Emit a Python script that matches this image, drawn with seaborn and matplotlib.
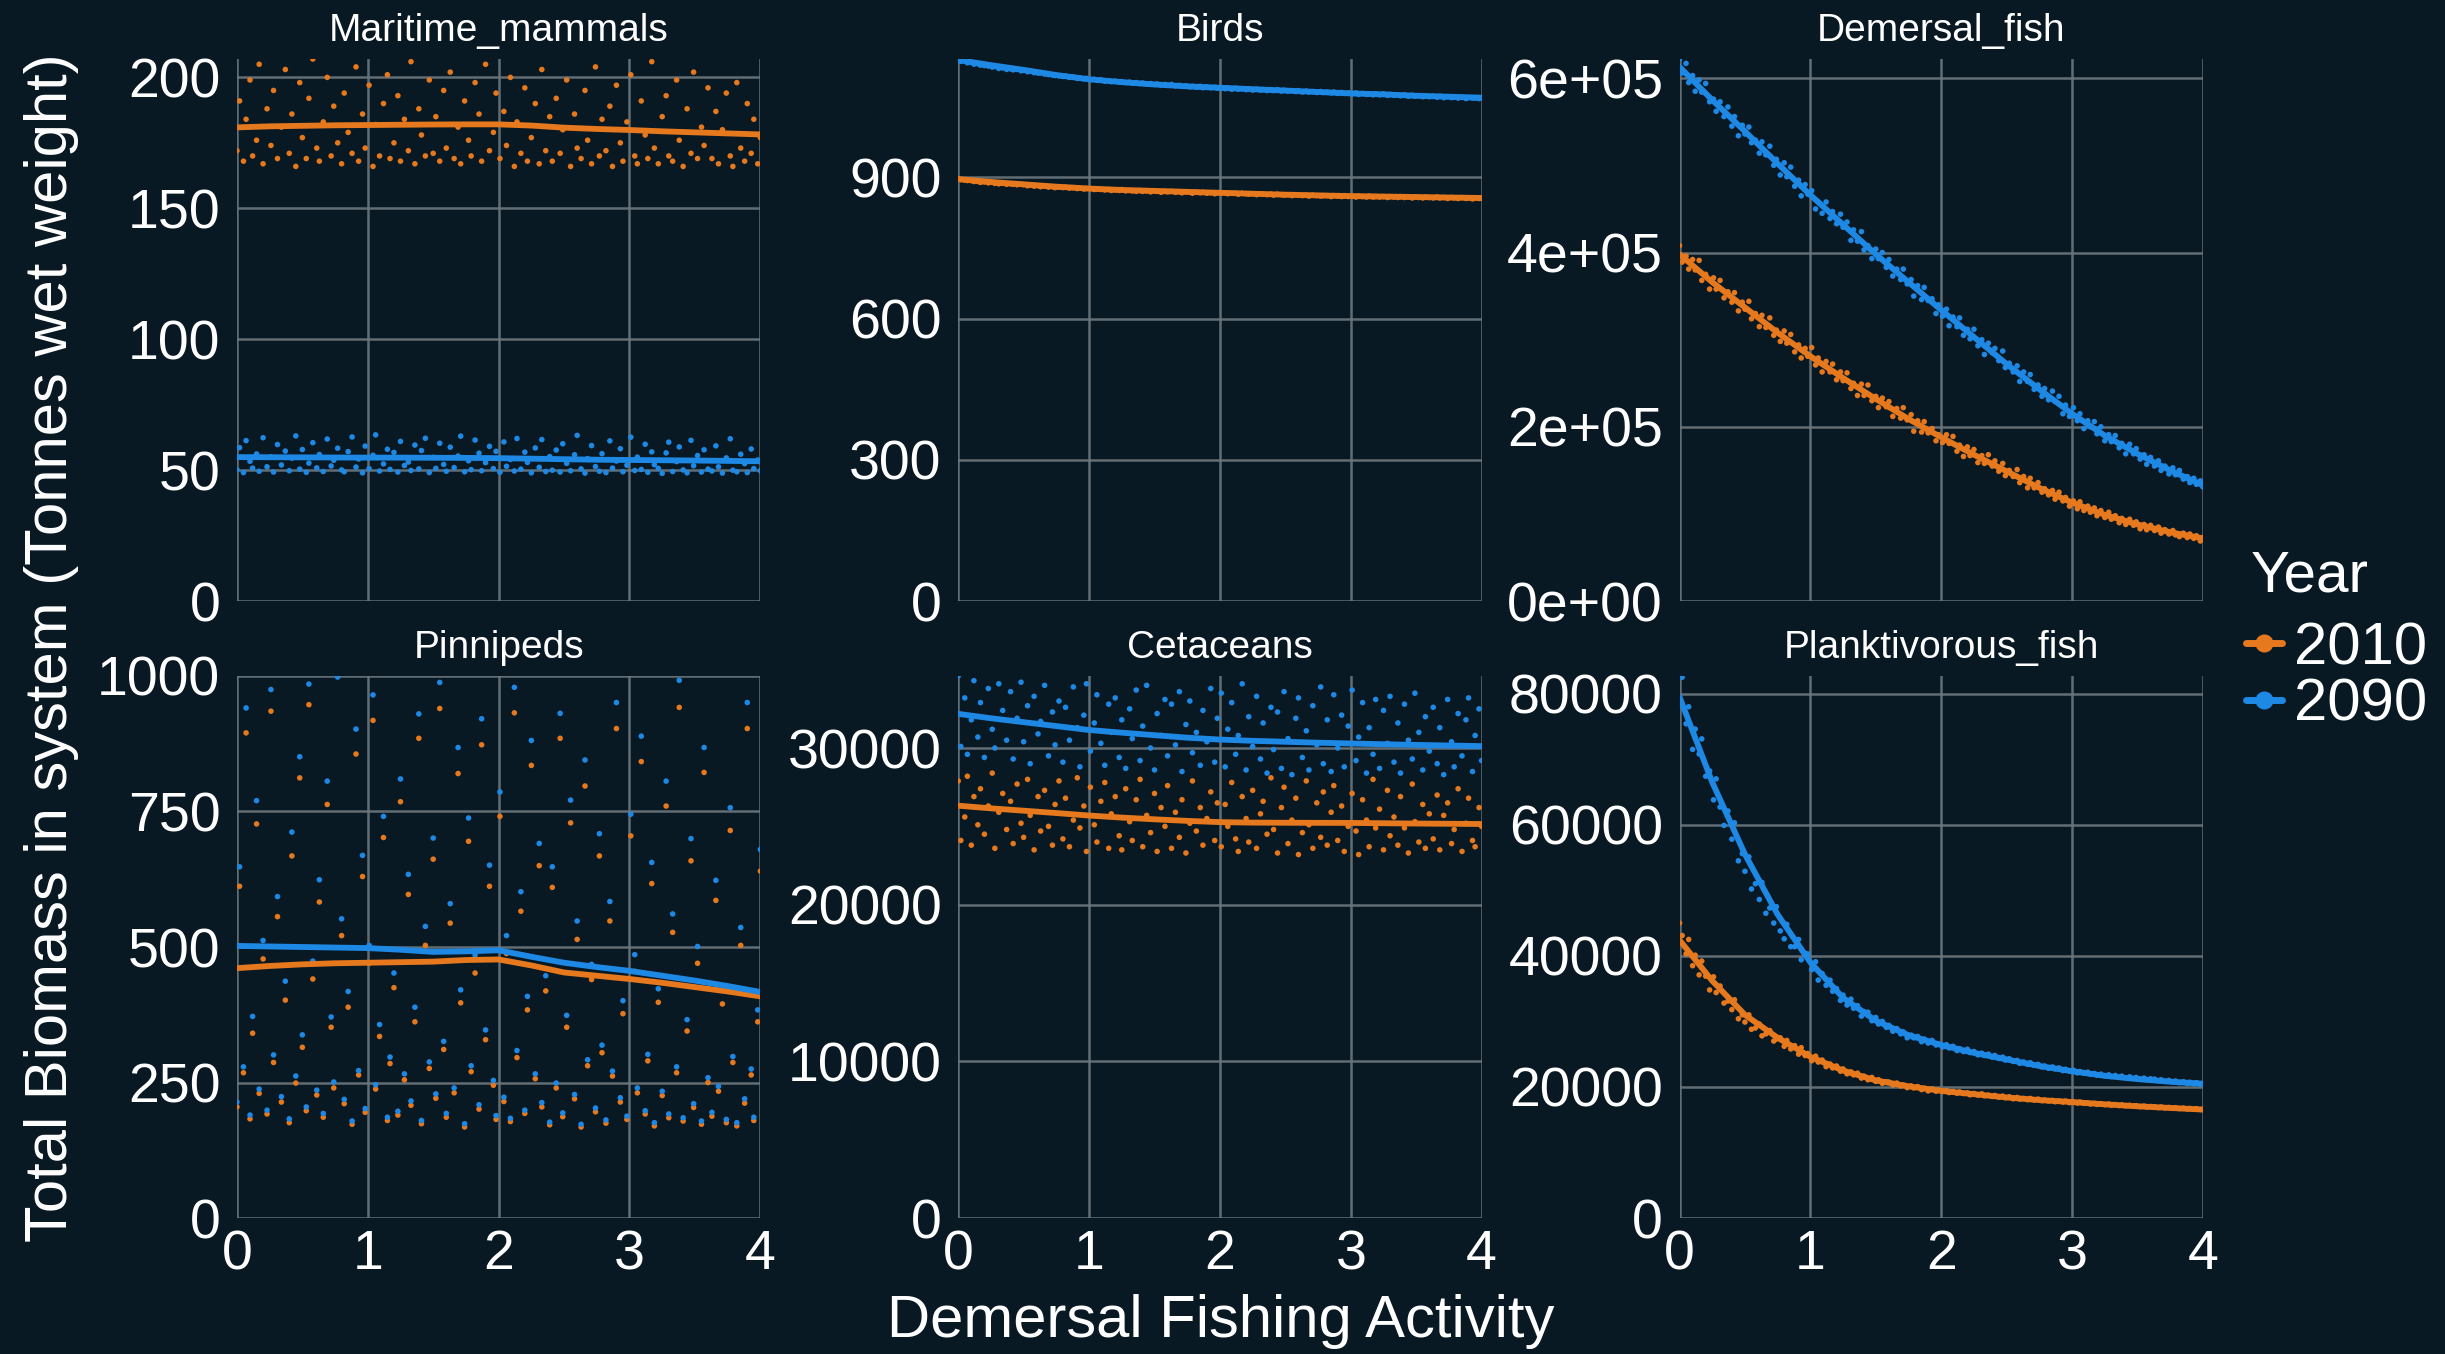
import matplotlib
matplotlib.use("Agg")
import matplotlib.pyplot as plt
from matplotlib.lines import Line2D
from matplotlib.ticker import MultipleLocator, FuncFormatter
import pandas as pd
import seaborn as sns

# Demersal fishing activity of each model run (shared by every guild and year)
activity = [
    0.00, 0.02, 0.05, 0.07, 0.10, 0.12, 0.15, 0.17, 0.20, 0.23, 0.26, 0.28, 0.31, 0.34, 0.37,
    0.40, 0.42, 0.45, 0.48, 0.50, 0.53, 0.55, 0.58, 0.61, 0.63, 0.66, 0.69, 0.72, 0.74, 0.77,
    0.80, 0.82, 0.85, 0.88, 0.91, 0.93, 0.96, 0.98, 1.01, 1.04, 1.06, 1.09, 1.12, 1.15, 1.17,
    1.20, 1.23, 1.25, 1.28, 1.31, 1.33, 1.36, 1.39, 1.41, 1.44, 1.47, 1.50, 1.52, 1.55, 1.58,
    1.60, 1.63, 1.66, 1.69, 1.71, 1.74, 1.77, 1.79, 1.82, 1.85, 1.87, 1.90, 1.93, 1.96, 1.98,
    2.01, 2.04, 2.06, 2.09, 2.12, 2.14, 2.17, 2.20, 2.22, 2.25, 2.28, 2.31, 2.33, 2.36, 2.39,
    2.41, 2.44, 2.47, 2.49, 2.52, 2.55, 2.58, 2.60, 2.63, 2.66, 2.68, 2.71, 2.74, 2.77, 2.79,
    2.82, 2.85, 2.87, 2.90, 2.93, 2.95, 2.98, 3.01, 3.04, 3.06, 3.09, 3.12, 3.14, 3.17, 3.19,
    3.22, 3.25, 3.28, 3.30, 3.33, 3.36, 3.38, 3.41, 3.44, 3.47, 3.49, 3.52, 3.55, 3.57, 3.60,
    3.63, 3.66, 3.68, 3.71, 3.74, 3.77, 3.79, 3.82, 3.85, 3.88, 3.90, 3.93, 3.95, 3.98, 4.00,
]

groups = ["Maritime_mammals", "Birds", "Demersal_fish",
          "Pinnipeds", "Cetaceans", "Planktivorous_fish"]
years = ["2010", "2090"]

maritime_2010 = [
    172, 191, 168, 184, 199, 170, 176, 205, 167, 188, 174, 195, 169, 181, 203,
    171, 186, 166, 198, 177, 169, 192, 207, 173, 168, 183, 200, 170, 189, 175,
    167, 194, 179, 171, 204, 168, 186, 173, 197, 166, 182, 170, 190, 201, 169,
    175, 193, 168, 184, 172, 206, 167, 188, 178, 170, 199, 171, 185, 168, 195,
    173, 202, 169, 181, 167, 191, 176, 170, 198, 186, 168, 205, 172, 179, 194,
    169, 187, 174, 200, 166, 183, 171, 196, 168, 177, 190, 167, 203, 172, 185,
    168, 192, 171, 180, 199, 166, 186, 173, 169, 195, 176, 167, 204, 170, 184,
    172, 189, 166, 197, 175, 168, 183, 201, 170, 167, 191, 178, 169, 206, 173,
    167, 185, 193, 170, 168, 199, 176, 166, 188, 171, 202, 169, 181, 174, 196,
    169, 187, 167, 180, 194, 170, 166, 198, 173, 168, 190, 171, 184, 167, 177,
]
maritime_2090 = [
    50.2, 58.6, 49.1, 61.3, 53.4, 50.8, 56.2, 49.6, 62.4, 51.3, 55.1, 49.3, 59.8, 52.0, 57.3,
    49.8, 54.6, 63.1, 50.4, 57.9, 49.2, 52.7, 60.5, 50.9, 56.0, 49.5, 61.9, 51.6, 53.8, 58.4,
    50.1, 49.4, 57.1, 62.7, 51.2, 54.3, 49.0, 59.2, 50.6, 55.7, 63.5, 49.7, 52.4, 58.0, 50.3,
    56.8, 49.3, 61.0, 51.8, 53.1, 49.9, 59.6, 50.5, 57.5, 62.2, 49.1, 54.9, 50.7, 60.3, 52.2,
    49.6, 58.8, 51.0, 55.4, 63.0, 49.4, 53.6, 50.2, 61.5, 56.5, 49.8, 52.9, 59.1, 50.6, 57.2,
    49.2, 60.8, 51.5, 54.1, 49.7, 62.1, 50.4, 56.9, 53.0, 49.0, 58.5, 51.1, 61.7, 49.5, 55.2,
    50.0, 57.7, 49.3, 60.1, 52.6, 49.8, 55.9, 63.3, 50.5, 48.9, 54.4, 59.4, 51.4, 49.6, 56.3,
    49.1, 61.2, 50.8, 53.5, 58.2, 49.4, 51.9, 62.6, 49.9, 55.0, 50.3, 59.9, 49.2, 57.0, 52.1,
    50.7, 48.8, 56.6, 60.7, 49.5, 53.3, 58.9, 50.1, 49.0, 61.4, 51.7, 55.6, 49.3, 57.8, 50.4,
    49.7, 59.3, 51.3, 48.9, 54.7, 62.0, 50.0, 49.4, 56.1, 52.5, 49.1, 58.1, 50.6, 53.9, 49.8,
]
birds_2010 = [
    897, 895, 894, 893, 893, 891, 891, 889, 890, 888, 889, 887, 886, 887, 885,
    886, 885, 884, 885, 884, 882, 883, 881, 882, 880, 881, 879, 880, 878, 879,
    878, 879, 877, 878, 876, 877, 875, 876, 876, 874, 875, 874, 873, 874, 872,
    873, 872, 874, 871, 872, 871, 870, 872, 870, 871, 869, 871, 870, 868, 870,
    869, 870, 868, 869, 867, 869, 868, 866, 868, 867, 868, 866, 867, 865, 867,
    866, 867, 865, 866, 866, 864, 866, 865, 864, 865, 863, 865, 864, 863, 864,
    862, 864, 863, 862, 863, 861, 863, 862, 861, 862, 860, 862, 861, 860, 861,
    861, 859, 861, 860, 859, 861, 859, 860, 858, 860, 859, 858, 860, 858, 859,
    858, 859, 857, 859, 858, 857, 859, 857, 858, 856, 858, 857, 856, 858, 857,
    856, 858, 856, 857, 855, 857, 856, 855, 857, 855, 856, 854, 856, 855, 855,
]
birds_2090 = [
    1151, 1146, 1147, 1143, 1144, 1140, 1141, 1138, 1137, 1136, 1134, 1135, 1131, 1132, 1129,
    1130, 1128, 1129, 1126, 1127, 1124, 1125, 1122, 1121, 1122, 1119, 1118, 1117, 1116, 1115,
    1114, 1115, 1112, 1113, 1110, 1111, 1109, 1110, 1107, 1108, 1106, 1107, 1104, 1105, 1103,
    1104, 1102, 1103, 1101, 1102, 1100, 1101, 1099, 1100, 1098, 1099, 1097, 1098, 1096, 1097,
    1095, 1097, 1094, 1095, 1093, 1094, 1092, 1093, 1091, 1093, 1090, 1092, 1090, 1091, 1089,
    1090, 1088, 1090, 1087, 1089, 1087, 1088, 1086, 1088, 1085, 1087, 1085, 1086, 1084, 1086,
    1084, 1086, 1083, 1085, 1083, 1084, 1082, 1084, 1081, 1083, 1081, 1082, 1080, 1082, 1080,
    1081, 1079, 1081, 1078, 1080, 1078, 1079, 1077, 1079, 1076, 1078, 1076, 1077, 1075, 1077,
    1075, 1077, 1074, 1076, 1074, 1075, 1073, 1075, 1072, 1074, 1072, 1073, 1071, 1073, 1071,
    1072, 1070, 1072, 1069, 1071, 1069, 1070, 1068, 1070, 1067, 1069, 1068, 1068, 1067, 1068,
]
# Demersal fish biomass in thousands of tonnes
demersal_2010_k = [
    408, 389, 396, 381, 392, 380, 391, 368, 375, 358, 371, 358, 368, 348, 355,
    343, 354, 333, 343, 335, 344, 324, 330, 315, 328, 314, 325, 305, 311, 298,
    310, 296, 306, 286, 294, 279, 290, 281, 291, 271, 279, 263, 275, 263, 272,
    254, 263, 253, 262, 244, 250, 236, 249, 236, 248, 230, 235, 222, 233, 223,
    229, 212, 221, 210, 222, 208, 214, 195, 207, 194, 206, 193, 198, 184, 191,
    182, 191, 181, 189, 172, 179, 166, 177, 167, 174, 159, 167, 158, 168, 155,
    161, 149, 158, 144, 150, 143, 151, 136, 143, 130, 141, 130, 136, 125, 129,
    122, 127, 117, 125, 115, 119, 109, 115, 106, 114, 104, 109, 102, 107, 98,
    104, 96, 102, 94, 98, 90, 95, 88, 94, 87, 91, 83, 88, 82, 87,
    81, 85, 78, 82, 77, 81, 76, 74, 78, 73, 77, 72, 75, 69, 73,
]
demersal_2090_k = [
    622, 606, 617, 595, 603, 585, 598, 584, 594, 573, 576, 562, 573, 556, 567,
    545, 556, 534, 546, 536, 544, 526, 529, 514, 527, 512, 522, 500, 507, 489,
    503, 487, 498, 476, 483, 465, 478, 467, 471, 450, 458, 445, 458, 439, 447,
    433, 444, 429, 435, 414, 426, 413, 424, 403, 408, 393, 404, 393, 400, 383,
    392, 373, 381, 369, 381, 364, 369, 350, 362, 346, 360, 345, 347, 330, 340,
    327, 335, 316, 326, 315, 325, 305, 312, 301, 312, 293, 300, 283, 296, 285,
    290, 276, 287, 268, 273, 263, 270, 252, 263, 252, 260, 243, 248, 235, 244,
    231, 241, 229, 235, 215, 225, 212, 222, 207, 215, 198, 207, 200, 206, 192,
    200, 184, 191, 183, 190, 176, 181, 169, 180, 169, 175, 163, 168, 157, 165,
    155, 161, 150, 155, 146, 153, 145, 150, 140, 143, 136, 141, 134, 138, 131,
]
pinnipeds_2010 = [
    205, 612, 268, 895, 183, 341, 727, 230, 478, 192, 935, 287, 556, 214, 402,
    176, 668, 249, 812, 315, 198, 947, 441, 227, 583, 186, 763, 352, 240, 1000,
    521, 211, 389, 173, 856, 264, 630, 195, 470, 918, 238, 335, 702, 180, 285,
    425, 190, 768, 255, 597, 208, 362, 885, 174, 503, 276, 662, 221, 940, 311,
    186, 544, 231, 820, 397, 168, 695, 270, 452, 201, 873, 329, 612, 245, 182,
    741, 215, 488, 178, 932, 296, 566, 193, 384, 835, 257, 650, 205, 419, 172,
    610, 240, 885, 187, 352, 729, 220, 514, 168, 797, 281, 440, 196, 668, 305,
    175, 548, 262, 903, 214, 377, 182, 705, 455, 231, 842, 192, 290, 617, 170,
    398, 226, 760, 185, 527, 268, 942, 179, 345, 659, 204, 470, 173, 822, 250,
    188, 586, 234, 395, 176, 715, 287, 170, 503, 212, 903, 264, 180, 362, 640,
]
pinnipeds_2090 = [
    214, 648, 279, 941, 190, 372, 770, 238, 512, 199, 975, 301, 593, 224, 437,
    183, 712, 262, 851, 338, 205, 985, 474, 236, 624, 193, 806, 371, 251, 998,
    552, 219, 418, 179, 902, 272, 669, 202, 503, 965, 246, 357, 741, 186, 297,
    452, 197, 810, 266, 634, 216, 389, 930, 180, 538, 288, 701, 229, 988, 326,
    193, 580, 240, 868, 421, 174, 738, 281, 485, 209, 921, 347, 651, 254, 189,
    786, 223, 521, 184, 979, 309, 602, 199, 409, 881, 266, 691, 213, 447, 177,
    648, 249, 931, 194, 374, 771, 228, 548, 173, 845, 292, 468, 203, 709, 319,
    181, 584, 271, 951, 222, 401, 188, 745, 486, 240, 889, 198, 302, 656, 176,
    423, 234, 806, 192, 561, 279, 992, 185, 366, 700, 211, 501, 179, 868, 259,
    195, 623, 243, 421, 182, 757, 298, 176, 536, 220, 951, 275, 186, 384, 680,
]
cetaceans_2010 = [
    27900, 24100, 25600, 28200, 23800, 26900, 25100, 27400, 24500, 26300, 28400, 23600, 25900, 27100, 24800,
    26600, 23900, 27700, 25200, 24300, 28000, 25700, 23500, 26900, 24700, 27300, 25000, 23800, 26400, 27900,
    24200, 26800, 23700, 25400, 28100, 24900, 26300, 23400, 27500, 25100, 24000, 26600, 27800, 23600, 25800,
    26900, 24400, 23500, 27400, 25300, 24100, 26700, 28000, 23700, 25700, 24600, 27100, 23400, 26200, 25000,
    27600, 23600, 25900, 24300, 26700, 23300, 25200, 27900, 24700, 26200, 23800, 25500, 27200, 24100, 26500,
    23700, 26400, 25000, 27800, 24200, 23400, 26900, 25500, 24000, 27300, 23600, 25800, 26600, 24500, 28100,
    24800, 23300, 26200, 27500, 23900, 25400, 26800, 23200, 24600, 27900, 25100, 23600, 26500, 24300, 27200,
    23800, 25900, 27600, 24100, 26300, 23400, 25000, 27100, 24700, 23200, 26700, 25400, 23700, 28000, 24900,
    26100, 23500, 27300, 24400, 25600, 23800, 26900, 24900, 23300, 27700, 25300, 24000, 26400, 23600, 25800,
    24200, 27000, 23500, 25700, 26500, 23900, 24800, 27400, 23400, 25200, 26800, 24100, 23700, 26200, 25000,
]
cetaceans_2090 = [
    34600, 30100, 33200, 29600, 31800, 34300, 30700, 32900, 29400, 33800, 31200, 30000, 34100, 32400, 30500,
    33600, 29300, 31900, 34200, 30400, 32700, 29000, 33300, 30900, 31700, 34000, 29500, 32300, 30200, 33000,
    29100, 32600, 30500, 33900, 31300, 28800, 32100, 34100, 29800, 31600, 33400, 30300, 28900, 32800, 31000,
    33200, 29400, 31800, 28700, 32500, 30600, 33700, 29200, 31400, 34000, 30000, 28600, 32200, 30800, 33100,
    29500, 32800, 30200, 33600, 28500, 31500, 33000, 29700, 31000, 28900, 32400, 30400, 33800, 29100, 31900,
    33500, 28800, 31200, 32900, 29600, 30800, 34100, 28600, 32000, 30100, 33300, 29300, 31600, 28400, 32600,
    29900, 32300, 28700, 33600, 30600, 28300, 31900, 33200, 29400, 31100, 28600, 32700, 30200, 33900, 29000,
    31800, 28500, 33400, 30000, 32100, 28800, 31400, 33700, 29200, 30700, 32900, 28400, 31300, 29600, 33100,
    28700, 32400, 30300, 33300, 29100, 31600, 28400, 32800, 30500, 29300, 33500, 31000, 28600, 32000, 29800,
    32600, 29000, 31300, 28300, 33100, 30400, 28800, 32200, 29500, 31800, 33200, 28500, 30800, 32500, 29200,
]
planktivorous_2010 = [
    45000, 43100, 40300, 42500, 38500, 40100, 37100, 39200, 36900, 34800, 36800, 34400, 35400, 32800, 33100,
    31800, 33300, 30400, 31000, 29900, 31000, 28800, 29000, 29600, 27800, 28100, 28600, 27000, 27300, 27500,
    26200, 27100, 25800, 26300, 25000, 26000, 24800, 25100, 24000, 24700, 23800, 24100, 23100, 23500, 22900,
    23200, 22400, 22750, 22000, 22300, 21850, 22100, 21350, 21650, 21100, 21450, 20850, 21100, 20550, 20800,
    20750, 20300, 20600, 20150, 20300, 19900, 20150, 19850, 20050, 19600, 19800, 19400, 19700, 19350, 19500,
    19300, 19450, 19150, 19300, 19050, 19250, 19000, 19100, 18800, 19000, 18750, 18950, 18650, 18750, 18550,
    18700, 18450, 18600, 18350, 18500, 18200, 18400, 18150, 18250, 18050, 18250, 18000, 18150, 17900, 18000,
    17850, 17950, 17750, 17850, 17700, 17850, 17600, 17700, 17550, 17700, 17500, 17550, 17400, 17500, 17350,
    17450, 17300, 17390, 17230, 17320, 17170, 17260, 17110, 17200, 17060, 17140, 17000, 17080, 16940, 17020,
    16980, 16850, 16940, 16800, 16870, 16740, 16830, 16700, 16780, 16650, 16730, 16600, 16680, 16560, 16580,
]
planktivorous_2090 = [
    82700, 82500, 75400, 78000, 71500, 74600, 70800, 73100, 67400, 68200, 63800, 67000, 62700, 59900, 62100,
    57800, 60300, 54500, 55600, 52900, 55100, 50200, 51000, 48600, 51200, 46500, 47300, 45000, 47500, 43800,
    42600, 44800, 41400, 41400, 42500, 39400, 40400, 40300, 37900, 39100, 36300, 37300, 35500, 36300, 34600,
    35000, 33200, 34000, 32500, 33400, 32000, 32400, 30800, 31500, 31400, 30100, 30600, 29600, 30000, 29100,
    29400, 28500, 28900, 28100, 28400, 27500, 27900, 27500, 27700, 26900, 27300, 26700, 27100, 26400, 26600,
    26100, 26450, 25950, 26200, 25550, 25850, 25400, 25750, 25250, 25400, 24900, 25150, 24800, 25000, 24550,
    24800, 24350, 24550, 24100, 24300, 23900, 24050, 23600, 23800, 23450, 23700, 23300, 23450, 23050, 23200,
    22850, 23050, 22750, 22900, 22500, 22700, 22400, 22550, 22150, 22350, 22100, 22250, 21950, 22050, 21800,
    21950, 21700, 21850, 21600, 21750, 21500, 21650, 21400, 21550, 21300, 21450, 21200, 21350, 21100, 21250,
    21200, 20950, 21100, 20850, 21000, 20750, 20900, 20650, 20800, 20550, 20720, 20480, 20650, 20430, 20550,
]

# Smoothed trend of each series, evaluated at these activity levels
trend_activity = [0.0, 0.25, 0.5, 0.75, 1.0, 1.25, 1.5, 1.75, 2.0,
                  2.25, 2.5, 2.75, 3.0, 3.25, 3.5, 3.75, 4.0]
maritime_2010_trend = [180.9, 181.3, 181.5, 181.7, 181.8, 181.9, 182.0, 182.05, 182.05,
                       181.6, 180.8, 180.3, 179.9, 179.4, 179.0, 178.6, 178.2]
maritime_2090_trend = [55.0, 54.95, 54.9, 54.85, 54.8, 54.8, 54.75, 54.7, 54.6,
                       54.4, 54.2, 54.0, 53.9, 53.8, 53.7, 53.55, 53.4]
birds_2010_trend = [896, 890, 885, 880, 876, 873, 871, 869, 867,
                    865, 863, 861.5, 860, 859, 858, 857, 856]
birds_2090_trend = [1149, 1138, 1128, 1117, 1108, 1102, 1097, 1093, 1090,
                    1087, 1084, 1081, 1078, 1076, 1073, 1071, 1069]
demersal_2010_trend_k = [398, 366, 337, 308, 281, 256, 232, 209, 188,
                         168, 149, 130, 113, 99, 88, 79, 72]
demersal_2090_trend_k = [613, 575, 539, 502, 466, 432, 398, 366, 334,
                         303, 272, 243, 215, 190, 169, 150, 133]
pinnipeds_2010_trend = [461, 465, 468, 470, 471, 472, 473, 476, 477,
                        466, 453, 447, 441, 434, 426, 418, 409]
pinnipeds_2090_trend = [502, 501, 500, 499, 498, 495, 491, 492, 494,
                        482, 471, 463, 456, 447, 438, 428, 417]
cetaceans_2010_trend = [26320, 26150, 26000, 25850, 25690, 25560, 25450, 25350, 25270,
                        25240, 25230, 25225, 25220, 25200, 25180, 25165, 25150]
cetaceans_2090_trend = [32180, 31900, 31650, 31400, 31150, 30980, 30820, 30660, 30540,
                        30460, 30400, 30340, 30290, 30240, 30200, 30160, 30120]
planktivorous_2010_trend = [42400, 36200, 31000, 27500, 24600, 22500, 21000, 20100, 19400,
                            18900, 18400, 18000, 17700, 17350, 17050, 16800, 16550]
planktivorous_2090_trend = [79500, 66500, 55500, 46300, 39000, 33600, 30100, 27900, 26400,
                            25200, 24200, 23200, 22400, 21700, 21200, 20800, 20500]

# ---------------------------------------------------------------- tables
points_by_group = {
    "Maritime_mammals": (maritime_2010, maritime_2090),
    "Birds": (birds_2010, birds_2090),
    "Demersal_fish": ([v * 1000 for v in demersal_2010_k], [v * 1000 for v in demersal_2090_k]),
    "Pinnipeds": (pinnipeds_2010, pinnipeds_2090),
    "Cetaceans": (cetaceans_2010, cetaceans_2090),
    "Planktivorous_fish": (planktivorous_2010, planktivorous_2090),
}
trend_by_group = {
    "Maritime_mammals": (maritime_2010_trend, maritime_2090_trend),
    "Birds": (birds_2010_trend, birds_2090_trend),
    "Demersal_fish": ([v * 1000 for v in demersal_2010_trend_k],
                      [v * 1000 for v in demersal_2090_trend_k]),
    "Pinnipeds": (pinnipeds_2010_trend, pinnipeds_2090_trend),
    "Cetaceans": (cetaceans_2010_trend, cetaceans_2090_trend),
    "Planktivorous_fish": (planktivorous_2010_trend, planktivorous_2090_trend),
}

point_rows, trend_rows = [], []
for g in groups:
    for yr, vals in zip(years, points_by_group[g]):
        for a, b in zip(activity, vals):
            point_rows.append({"Group": g, "Year": yr, "Activity": a, "Biomass": b})
    for yr, vals in zip(years, trend_by_group[g]):
        for a, b in zip(trend_activity, vals):
            trend_rows.append({"Group": g, "Year": yr, "Activity": a, "Biomass": b})
points = pd.DataFrame(point_rows)
trends = pd.DataFrame(trend_rows)

# ---------------------------------------------------------------- styling
BG = "#091923"
FG = "#FFFFFF"
GRID = "#6C777E"
TICK = "#3A3F44"
palette = {"2010": "#E6781E", "2090": "#1E88E5"}
y_step = {"Maritime_mammals": 50, "Birds": 300, "Demersal_fish": 200000,
          "Pinnipeds": 250, "Cetaceans": 10000, "Planktivorous_fish": 20000}

sns.set_style("dark")
plt.rcParams["font.family"] = ["Liberation Sans", "DejaVu Sans"]
plt.rcParams["axes.facecolor"] = BG
plt.rcParams["figure.facecolor"] = BG

fig, axes = plt.subplots(2, 3, figsize=(24.45, 13.54), dpi=100)
fig.subplots_adjust(left=0.0969, right=0.901, top=0.9564, bottom=0.1004,
                    wspace=0.378, hspace=0.138)

for i, (ax, g) in enumerate(zip(axes.flat, groups)):
    ax.set_facecolor(BG)
    sub = points[points["Group"] == g]
    sns.scatterplot(data=sub, x="Activity", y="Biomass", hue="Year",
                    palette=palette, s=16, linewidth=0, legend=False,
                    ax=ax, zorder=2)
    tr = trends[trends["Group"] == g]
    sns.lineplot(data=tr, x="Activity", y="Biomass", hue="Year",
                 palette=palette, linewidth=4.2, legend=False, ax=ax, zorder=3)

    ax.set_xlim(0, 4)
    ax.set_ylim(0, sub["Biomass"].max())
    ax.xaxis.set_major_locator(MultipleLocator(1))
    ax.yaxis.set_major_locator(MultipleLocator(y_step[g]))
    if g == "Demersal_fish":
        ax.yaxis.set_major_formatter(FuncFormatter(lambda v, p: f"{v:.0e}"))
    else:
        ax.yaxis.set_major_formatter(FuncFormatter(lambda v, p: f"{v:.0f}"))

    ax.grid(True, color=GRID, linewidth=1.8, alpha=0.9, zorder=0)
    ax.set_axisbelow(True)
    for s in ax.spines.values():
        s.set_visible(False)
    ax.tick_params(axis="both", colors=TICK, labelcolor=FG, labelsize=40,
                   length=5, width=1.6, direction="out")
    ax.tick_params(axis="y", pad=7)
    ax.tick_params(axis="x", pad=3)
    if i < 3:
        ax.tick_params(axis="x", labelbottom=False, length=0)
    ax.set_xlabel("")
    ax.set_ylabel("")
    ax.text(0.5, 1.052, g, transform=ax.transAxes, ha="center", va="center",
            color=FG, fontsize=28)

fig.text(0.4994, 0.024, "Demersal Fishing Activity", ha="center", va="center",
         color=FG, fontsize=43)
fig.text(0.021, 0.522, "Total Biomass in system (Tonnes wet weight)", ha="center",
         va="center", rotation=90, color=FG, fontsize=43)

# Legend: title placed as its own text, entries below it
fig.text(0.9205, 0.574, "Year", ha="left", va="center", color=FG, fontsize=42)
handles = [Line2D([0], [0], color=palette[y], marker="o", markersize=12,
                  linewidth=5) for y in years]
leg = fig.legend(handles, years, loc="center left",
                 bbox_to_anchor=(0.9185, 0.5), frameon=False, fontsize=43,
                 handlelength=0.6, handletextpad=0.2,
                 labelspacing=0.02, borderpad=0, borderaxespad=0)
for t in leg.get_texts():
    t.set_color(FG)

fig.savefig("out.png", dpi=100, facecolor=BG)
